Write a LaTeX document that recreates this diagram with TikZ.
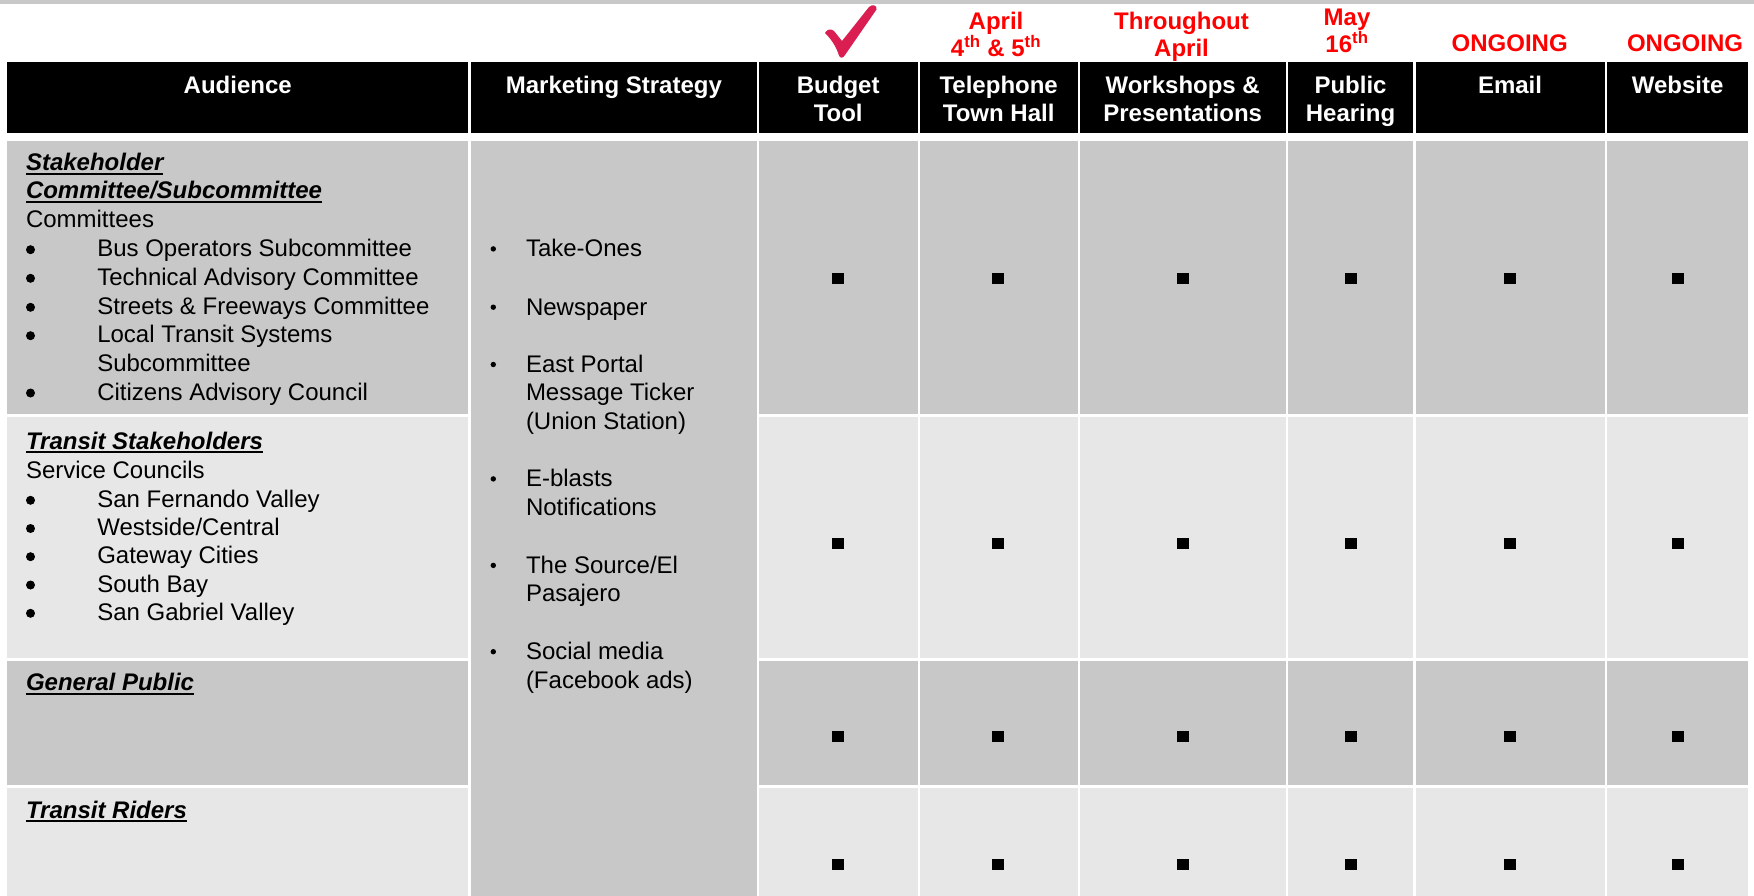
\documentclass[tikz,border=0pt]{standalone}
\usepackage{fontspec}
\setmainfont{Liberation Sans}
\definecolor{dgray}{RGB}{200,200,200}
\definecolor{lgray}{RGB}{231,231,231}
\definecolor{datered}{RGB}{255,0,0}
\definecolor{checkc}{RGB}{218,30,82}
\begin{document}
\begin{tikzpicture}[x=1pt,y=-1pt,
  txt/.style={inner sep=0pt, outer sep=0pt, anchor=base west, align=left,
    font=\fontsize{24}{28.6}\selectfont},
  hd/.style={txt, font=\fontsize{24}{28.6}\selectfont\bfseries\itshape},
  hdr/.style={inner sep=0pt, outer sep=0pt, anchor=base, align=center, text=white,
    font=\fontsize{24}{27.7}\selectfont\bfseries},
  datelbl/.style={inner sep=0pt, outer sep=0pt, anchor=base, align=center, text=datered,
    font=\fontsize{24}{27}\selectfont\bfseries},
  sq/.style={fill=black, minimum width=12pt, minimum height=11pt, inner sep=0pt, outer sep=0pt},
  ul/.style={line width=1.8pt},
  bigdot/.style={fill=black},
]
\useasboundingbox (0,0) rectangle (1754,896);
\fill[white] (0,0) rectangle (1754,896);
\fill[dgray] (0,0) rectangle (1754,4);

% header cells
\foreach \l/\r in {7/468.3, 471/756.7, 759/917.5, 920/1077.5, 1080/1285.5, 1288/1413, 1415.5/1604.7, 1607.3/1748}
  \fill[black] (\l,61.7) rectangle (\r,133.3);

% body cells (all columns except column 2)
\foreach \l/\r in {7/468.3, 759/917.5, 920/1077.5, 1080/1285.5, 1288/1413, 1415.5/1604.7, 1607.3/1748} {
  \fill[dgray] (\l,140.7) rectangle (\r,413.7);
  \fill[lgray] (\l,416.5) rectangle (\r,658);
  \fill[dgray] (\l,660.5) rectangle (\r,785);
  \fill[lgray] (\l,787.5) rectangle (\r,896);
}
% column 2 spans all rows
\fill[dgray] (471,140.7) rectangle (756.7,896);

% check mark
\fill[checkc] (825,33) .. controls (827,29) and (831,28.5) .. (834,31)
  -- (842,41) -- (869,7) .. controls (872,4) and (877.5,5) .. (876.5,9.5)
  -- (845,55) .. controls (843,58.5) and (840,58.5) .. (839,55.5)
  .. controls (836,46) and (831,39) .. (825,33) -- cycle;

% date labels (anchor = baseline of last line)
\node[datelbl] (dTel) at (996,57) {April\\4\textsuperscript{th} \& 5\textsuperscript{th}};
\node[datelbl] (dWork) at (1181.5,56.5) {Throughout\\April};
\node[datelbl] (dPub) at (1347,53) {May\\16\textsuperscript{th}};
\node[datelbl] (dEmail) at (1509.7,52) {ONGOING};
\node[datelbl] (dWeb) at (1685,52) {ONGOING};

% header texts (anchor = baseline of last line)
\node[hdr] (hAud) at (237.7,94) {Audience};
\node[hdr] (hMkt) at (613.9,94) {Marketing Strategy};
\node[hdr] (hBud) at (838.2,121.7) {Budget\\Tool};
\node[hdr] (hTel) at (998.7,121.7) {Telephone\\Town Hall};
\node[hdr] (hWork) at (1182.7,121.7) {Workshops \&\\Presentations};
\node[hdr] (hPub) at (1350.5,121.7) {Public\\Hearing};
\node[hdr] (hEmail) at (1510,94) {Email};
\node[hdr] (hWeb) at (1677.6,94) {Website};

% row 1 audience
\node[hd] (s1a) at (26,170.7) {Stakeholder};
\node[hd] (s1b) at (26,199) {Committee/Subcommittee};
\node[txt] (s1c) at (26,227.7) {Committees};
\node[txt] (s1i1) at (97.3,256.7) {Bus Operators Subcommittee};
\node[txt] (s1i2) at (97.3,285.3) {Technical Advisory Committee};
\node[txt] (s1i3) at (97.3,314.3) {Streets \& Freeways Committee};
\node[txt] (s1i4) at (97.3,371) {Local Transit Systems\\Subcommittee};
\node[txt] (s1i5) at (97.3,400) {Citizens Advisory Council};
\foreach \b in {256.7,285.3,314.3,342.7,400}
  \fill[bigdot] (30.5,\b-7) circle (4.5);

% row 2 audience
\node[hd] (s2a) at (26,449.3) {Transit Stakeholders};
\node[txt] (s2b) at (26,478.3) {Service Councils};
\node[txt] (s2i1) at (97.3,507.3) {San Fernando Valley};
\node[txt] (s2i2) at (97.3,535.5) {Westside/Central};
\node[txt] (s2i3) at (97.3,563.7) {Gateway Cities};
\node[txt] (s2i4) at (97.3,592) {South Bay};
\node[txt] (s2i5) at (97.3,620.3) {San Gabriel Valley};
\foreach \b in {507.3,535.5,563.7,592,620.3}
  \fill[bigdot] (30.5,\b-7) circle (4.5);

% rows 3 and 4
\node[hd] (s3a) at (26,690.7) {General Public};
\node[hd] (s4a) at (26,818.3) {Transit Riders};

% underlines
\foreach \n in {s1a,s1b,s2a,s3a,s4a}
  \draw[ul] ([yshift=-3pt]\n.base west) -- ([yshift=-3pt]\n.base east);

% marketing strategy (anchor = baseline of last line)
\node[txt] (m1) at (526,256.7) {Take-Ones};
\node[txt] (m2) at (526,315) {Newspaper};
\node[txt] (m3) at (526,429.5) {East Portal\\Message Ticker\\(Union Station)};
\node[txt] (m4) at (526,515.3) {E-blasts\\Notifications};
\node[txt] (m5) at (526,601.8) {The Source/El\\Pasajero};
\node[txt] (m6) at (526,688.1) {Social media\\(Facebook ads)};
\foreach \b in {256.7,315,372.3,486.7,573.2,659.5}
  \fill[bigdot] (493.3,\b-7.8) circle (2.7);

% squares
\foreach \x [count=\i] in {838.3,998.2,1182.5,1350.5,1510.3,1678}
  \foreach \y [count=\j] in {278.5,543.5,736.5,864.5}
    \node[sq] (q\i\j) at (\x,\y) {};
\end{tikzpicture}
\end{document}
